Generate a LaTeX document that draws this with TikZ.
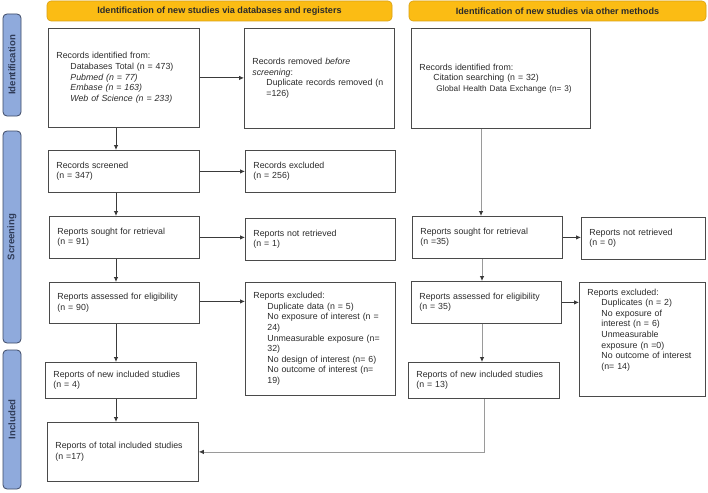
\documentclass[tikz,border=0pt]{standalone}
\usepackage{fontspec}
\setmainfont{Liberation Sans}
\usetikzlibrary{arrows.meta}
\definecolor{hdr}{HTML}{FBBC14}
\definecolor{hdrb}{HTML}{D9A012}
\definecolor{side}{HTML}{8FAADC}
\definecolor{sideb}{HTML}{3E4A66}
\definecolor{sidet}{HTML}{2F3B57}
\definecolor{txt}{HTML}{2B2B2B}
\definecolor{bxc}{HTML}{4A4A4A}
\definecolor{lnc}{HTML}{3A3A3A}
\definecolor{lng}{HTML}{9A9A9A}
\newcommand{\ind}{\hspace*{14pt}}
\tikzset{
  bx/.style n args={3}{draw=bxc, line width=0.8pt, fill=white, anchor=north west,
    align=left, inner xsep=8pt, inner ysep=0pt, minimum width=#1, minimum height=#2,
    text width=#3, font=\fontsize{8.8}{10.6}\selectfont, text=txt},
  hdrbox/.style={draw=hdrb, line width=0.6pt, fill=hdr, rounded corners=4pt,
    minimum height=20pt, inner sep=0pt, text=txt,
    font=\bfseries\fontsize{9.1}{10}\selectfont},
  sidebox/.style={draw=sideb, line width=0.8pt, fill=side, rounded corners=4pt,
    minimum height=18pt, inner sep=0pt, rotate=90, text=sidet,
    font=\bfseries\fontsize{9.6}{10}\selectfont},
  arr/.style={draw=lnc, line width=0.8pt, -{Latex[length=5pt,width=4.5pt]}},
  arrg/.style={draw=lng, line width=0.8pt, -{Latex[length=5pt,width=4.5pt,color=lnc]}},
}
\begin{document}
\begin{tikzpicture}[x=1pt,y=-1pt]
\fill[white] (0,0) rectangle (708,492);
\useasboundingbox (0,0) rectangle (708,492);

% headers
\node[hdrbox, minimum width=345pt] (h1) at (219.5,11) {Identification of new studies via databases and registers};
\node[hdrbox, minimum width=297pt] (h2) at (557.5,11) {Identification of new studies via other methods};

% side labels
\node[sidebox, minimum width=102pt] (s1) at (12,65) {Identification};
\node[sidebox, minimum width=212pt] (s2) at (12,237) {Screening};
\node[sidebox, minimum width=139pt] (s3) at (12,419.5) {Included};

% left column
\node[bx={151pt}{99pt}{135pt}] (A) at (48,28) {Records identified from:\\
\ind Databases Total (n = 473)\\
\ind\textit{Pubmed (n = 77)}\\
\ind\textit{Embase (n = 163)}\\
\ind\textit{Web of Science (n = 233)}};
\node[bx={150pt}{100pt}{134pt}] (B) at (244,28) {Records removed \textit{before}\\
\textit{screening}:\\
\ind Duplicate records removed (n\\
\ind =126)};
\node[bx={151pt}{42pt}{135pt}] (D) at (48,150) {Records screened\\(n = 347)};
\node[bx={150pt}{42pt}{134pt}] (E) at (245,150) {Records excluded\\(n = 256)};
\node[bx={150pt}{42pt}{134pt}] (F) at (49,216) {Reports sought for retrieval\\(n = 91)};
\node[bx={150pt}{42pt}{134pt}] (G) at (245,218) {Reports not retrieved\\(n = 1)};
\node[bx={150pt}{41pt}{134pt}] (H) at (49,282) {Reports assessed for eligibility\\(n = 90)};
\node[bx={150pt}{113pt}{134pt}] (I) at (245,282) {Reports excluded:\\
\ind Duplicate data (n = 5)\\
\ind No exposure of interest (n =\\
\ind 24)\\
\ind Unmeasurable exposure (n=\\
\ind 32)\\
\ind No design of interest (n= 6)\\
\ind No outcome of interest (n=\\
\ind 19)};
\node[bx={151pt}{36pt}{135pt}] (J) at (45,362) {Reports of new included studies\\(n = 4)};
\node[bx={151pt}{59pt}{135pt}] (K) at (47,422) {Reports of total included studies\\(n =17)};

% right column
\node[bx={179pt}{100pt}{163pt}] (C) at (411,28) {Records identified from:\\
\ind Citation searching (n = 32)\\
\hspace*{17pt}{\fontsize{8.2}{10.6}\selectfont Global Health Data Exchange (n= 3)}};
\node[bx={150pt}{42pt}{134pt}] (L) at (412,216) {Reports sought for retrieval\\(n =35)};
\node[bx={124pt}{42pt}{108pt}] (M) at (581,217) {Reports not retrieved\\(n = 0)};
\node[bx={150pt}{42pt}{134pt}] (N) at (411,281) {Reports assessed for eligibility\\(n = 35)};
\node[bx={126pt}{114pt}{110pt}] (O) at (579,282) {Reports excluded:\\
\ind Duplicates (n = 2)\\
\ind No exposure of\\
\ind interest (n = 6)\\
\ind Unmeasurable\\
\ind exposure (n =0)\\
\ind No outcome of interest\\
\ind (n= 14)\\[10pt]\mbox{}};
\node[bx={151pt}{36pt}{135pt}] (P) at (408,362) {Reports of new included studies\\(n = 13)};

% x positions of the vertical connectors
\coordinate (xl) at (116,0);
\coordinate (xr1) at (481,0);
\coordinate (xr2) at (482,0);
\coordinate (xr3) at (484,0);

% left connectors
\draw[arr] (A.east) -- (A.east -| B.west);
\draw[arr] (A.south -| xl) -- (D.north -| xl);
\draw[arr] (D.east) -- (D.east -| E.west);
\draw[arr] (D.south -| xl) -- (F.north -| xl);
\draw[arr] (F.east) -- (F.east -| G.west);
\draw[arr] (F.south -| xl) -- (H.north -| xl);
\draw[arr] ([yshift=1.5pt]H.east) -- ([yshift=1.5pt]H.east -| I.west);
\draw[arr] (H.south -| xl) -- (J.north -| xl);
\draw[arr] (J.south -| xl) -- (K.north -| xl);

% right connectors
\draw[arrg] (C.south -| xr1) -- (L.north -| xr1);
\draw[arr] (L.east) -- (L.east -| M.west);
\draw[arrg] (L.south -| xr2) -- (N.north -| xr2);
\draw[arr] (N.east) -- (N.east -| O.west);
\draw[arrg] (N.south -| xr2) -- (P.north -| xr2);
\draw[arrg] (P.south -| xr3) |- (K.east);
\end{tikzpicture}
\end{document}
